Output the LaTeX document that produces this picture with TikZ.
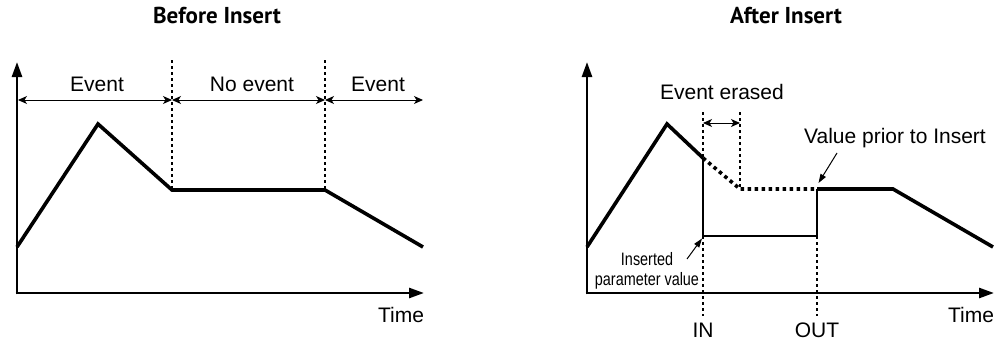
\documentclass[tikz,border=0pt]{standalone}
\usepackage{fontspec}
\setmainfont{Liberation Sans}
\newfontfamily\titlefont{PT Sans}
\usetikzlibrary{arrows.meta}
\begin{document}
\begin{tikzpicture}[x=1pt,y=-1pt,
  axis/.style={line width=2.6pt,-{Triangle[length=15pt,width=10pt]}},
  curve/.style={line width=3.6pt,line join=miter},
  thin/.style={line width=1.5pt},
  vdots/.style={line width=1.3pt,dash pattern=on 3pt off 3pt},
  erased/.style={line width=3.6pt,dash pattern=on 3.5pt off 3.5pt},
  span/.style={line width=1pt,{Stealth[length=9pt,width=8pt,inset=2.5pt]}-{Stealth[length=9pt,width=8pt,inset=2.5pt]}},
  pointer/.style={line width=1pt,-{Triangle[length=9pt,width=6pt]}},
  lbl/.style={font=\fontsize{21}{23}\selectfont,anchor=base,inner sep=0pt},
  ttl/.style={font=\titlefont\bfseries\fontsize{23}{26}\selectfont,anchor=base,inner sep=0pt},
  small/.style={font=\fontsize{18}{20}\selectfont,anchor=base,inner sep=0pt}]
\useasboundingbox (0,0) rectangle (999,343);
% ---------- Before Insert ----------
\node[ttl] (t1) at (217,23) {Before Insert};
\coordinate (y1) at (17,62);
\coordinate (x1) at (424,293);
\draw[axis] (17,294.3) -- (y1);
\draw[axis] (15.7,293) -- (x1);
\node[lbl] (time1) at (401,322) {Time};
\coordinate (a0) at (17,247);
\coordinate (a1) at (98,124);
\coordinate (a2) at (172,190);
\coordinate (a3) at (325,190);
\coordinate (a4) at (423,247);
\draw[curve] (a0) -- (a1) -- (a2) -- (a3) -- (a4);
\coordinate (d1t) at (172,60);
\coordinate (d2t) at (325,60);
\draw[vdots] (d1t) -- (a2);
\draw[vdots] (d2t) -- (a3);
\coordinate (s0) at (18,100);
\coordinate (s1) at (172,100);
\coordinate (s2) at (325,100);
\coordinate (s3) at (423,100);
\draw[span] (s0) -- (s1);
\draw[span] (s1) -- (s2);
\draw[span] (s2) -- (s3);
\node[lbl] (e1) at (97,91) {Event};
\node[lbl] (ne) at (252,91) {No event};
\node[lbl] (e2) at (378,91) {Event};
% ---------- After Insert ----------
\node[ttl] (t2) at (786,23) {After Insert};
\coordinate (y2) at (587,62);
\coordinate (x2) at (994,293);
\draw[axis] (587,294.3) -- (y2);
\draw[axis] (585.7,293) -- (x2);
\node[lbl] (time2) at (971,322) {Time};
\coordinate (b0) at (587,247);
\coordinate (b1) at (667,124);
\coordinate (in) at (703,158);
\coordinate (b2) at (740,189);
\coordinate (out) at (817,189);
\coordinate (b3) at (893,189);
\coordinate (b4) at (993,247);
\draw[curve] (b0) -- (b1) -- (in);
\draw[erased] (in) -- (b2) -- (out);
\draw[curve] (out) -- (b3) -- (b4);
\coordinate (inlow) at (703,236);
\coordinate (outlow) at (817,236);
\draw[thin] (in) -- (inlow) -- (outlow) -- (out);
\coordinate (intop) at (703,112);
\coordinate (inbot) at (703,316);
\coordinate (ertop) at (740,112);
\coordinate (outbot) at (817,316);
\draw[vdots] (intop) -- (in);
\draw[vdots] (inlow) -- (inbot);
\draw[vdots] (ertop) -- (b2);
\draw[vdots] (outlow) -- (outbot);
\coordinate (ea) at (703,123);
\coordinate (eb) at (740,123);
\draw[span] (ea) -- (eb);
\node[lbl] (er) at (722,99) {Event erased};
\node[lbl] (vp) at (895,143) {Value prior to Insert};
\coordinate (vpa) at (837,153);
\draw[pointer] (vpa) -- (818.5,183);
\node[small] (ins1) at (647,265) {\scalebox{0.8}[1]{Inserted}};
\node[small] (ins2) at (647,285) {\scalebox{0.8}[1]{parameter value}};
\coordinate (ipa) at (687,259);
\draw[pointer] (ipa) -- (702,238.5);
\node[lbl] (inl) at (703,337) {IN};
\node[lbl] (outl) at (817,337) {OUT};
\end{tikzpicture}
\end{document}
